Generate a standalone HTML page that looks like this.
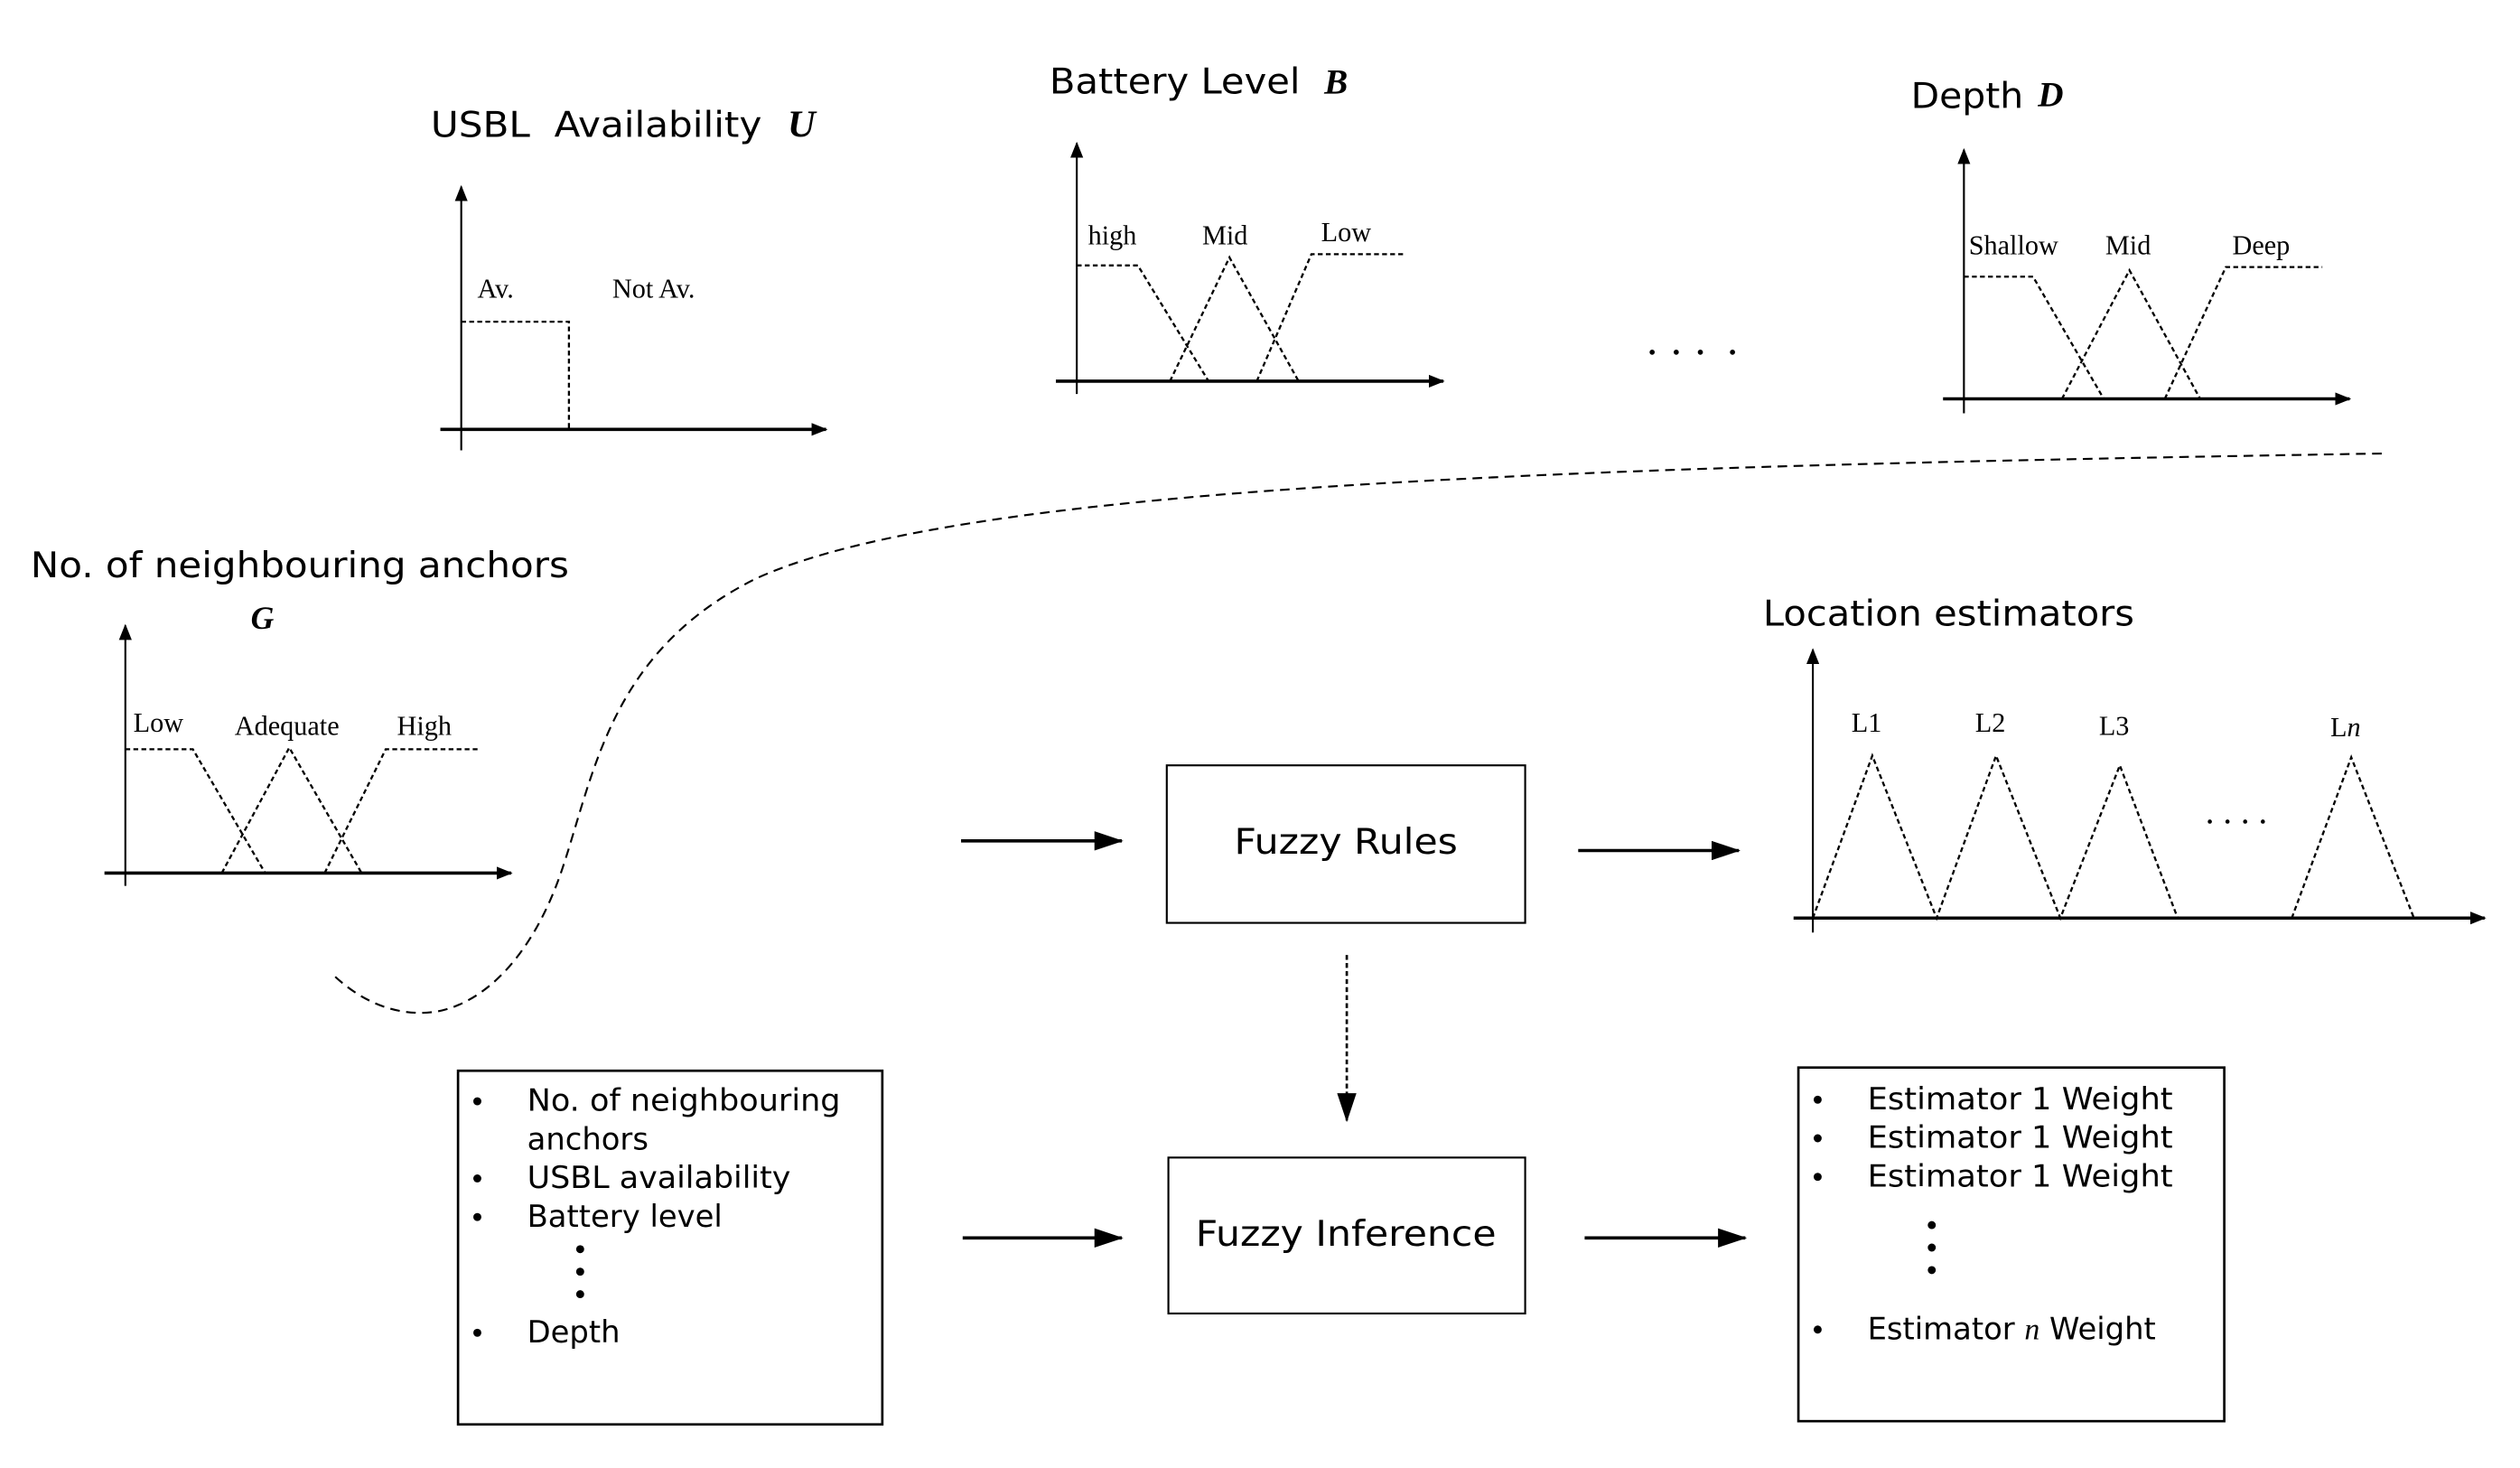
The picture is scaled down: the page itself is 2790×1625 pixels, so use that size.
<!DOCTYPE html>
<html><head><style>html,body{margin:0;padding:0;background:#fff}svg{display:block}</style></head>
<body>
<svg width="2790" height="1625" viewBox="0 0 1568 913" xmlns="http://www.w3.org/2000/svg">
<defs>
<marker id="ah" markerWidth="10" markerHeight="8" refX="9" refY="4" orient="auto" markerUnits="userSpaceOnUse"><path d="M0,0 L10,4 L0,8 Z" fill="#000"/></marker>
<marker id="ab" markerWidth="18" markerHeight="12" refX="17" refY="6" orient="auto" markerUnits="userSpaceOnUse"><path d="M0,0 L18,6 L0,12 Z" fill="#000"/></marker>
</defs>
<g font-family="'DejaVu Sans', sans-serif" fill="#000">
<text x="268" y="85" font-size="22" textLength="206" lengthAdjust="spacingAndGlyphs">USBL&#160; Availability</text>
<text x="490" y="85" font-size="24" font-family="'Liberation Serif',serif" font-style="italic" font-weight="bold">U</text>
<text x="653" y="58" font-size="22" textLength="156" lengthAdjust="spacingAndGlyphs">Battery Level</text>
<text x="824" y="58" font-size="22" font-family="'Liberation Serif',serif" font-style="italic" font-weight="bold">B</text>
<text x="1189" y="67" font-size="22" textLength="70" lengthAdjust="spacingAndGlyphs">Depth</text>
<text x="1268" y="66" font-size="22" font-family="'Liberation Serif',serif" font-style="italic" font-weight="bold">D</text>
<text x="19" y="359" font-size="22" textLength="335" lengthAdjust="spacingAndGlyphs">No. of neighbouring anchors</text>
<text x="156" y="391" font-size="20" font-family="'Liberation Serif',serif" font-style="italic" font-weight="bold">G</text>
<text x="1097" y="389" font-size="22" textLength="231" lengthAdjust="spacingAndGlyphs">Location estimators</text>
<text x="768" y="531" font-size="22" textLength="139" lengthAdjust="spacingAndGlyphs">Fuzzy Rules</text>
<text x="744" y="775" font-size="22" textLength="187" lengthAdjust="spacingAndGlyphs">Fuzzy Inference</text>
<g font-size="19">
<text x="328" y="691" textLength="195" lengthAdjust="spacingAndGlyphs">No. of neighbouring</text>
<text x="328" y="715">anchors</text>
<text x="328" y="739" textLength="164" lengthAdjust="spacingAndGlyphs">USBL availability</text>
<text x="328" y="763">Battery level</text>
<text x="328" y="835">Depth</text>
<text x="1162" y="690" textLength="190" lengthAdjust="spacingAndGlyphs">Estimator 1 Weight</text>
<text x="1162" y="714" textLength="190" lengthAdjust="spacingAndGlyphs">Estimator 1 Weight</text>
<text x="1162" y="738" textLength="190" lengthAdjust="spacingAndGlyphs">Estimator 1 Weight</text>
<text x="1162" y="833">Estimator <tspan font-family="'Liberation Serif',serif" font-style="italic">n</tspan> Weight</text>
</g>
<g>
<circle cx="297" cy="685" r="2.5"/><circle cx="297" cy="733" r="2.5"/><circle cx="297" cy="757" r="2.5"/><circle cx="297" cy="829" r="2.5"/>
<circle cx="361" cy="777" r="2.5"/><circle cx="361" cy="791" r="2.5"/><circle cx="361" cy="805" r="2.5"/>
<circle cx="1131" cy="684" r="2.5"/><circle cx="1131" cy="708" r="2.5"/><circle cx="1131" cy="732" r="2.5"/><circle cx="1131" cy="827" r="2.5"/>
<circle cx="1202" cy="762" r="2.5"/><circle cx="1202" cy="776" r="2.5"/><circle cx="1202" cy="790" r="2.5"/>
<circle cx="1028" cy="219" r="1.6"/><circle cx="1043" cy="219" r="1.6"/><circle cx="1058" cy="219" r="1.6"/><circle cx="1078" cy="219" r="1.6"/>
<circle cx="1375" cy="511" r="1.3"/><circle cx="1386" cy="511" r="1.3"/><circle cx="1397" cy="511" r="1.3"/><circle cx="1408" cy="511" r="1.3"/>
</g>
<g font-family="'Liberation Serif',serif" font-size="17">
<text x="297" y="185">Av.</text><text x="381" y="185">Not Av.</text>
<text x="677" y="152">high</text><text x="748" y="152">Mid</text><text x="822" y="150">Low</text>
<text x="1225" y="158">Shallow</text><text x="1310" y="158">Mid</text><text x="1389" y="158">Deep</text>
<text x="83" y="455">Low</text><text x="146" y="457">Adequate</text><text x="247" y="457">High</text>
<text x="1152" y="455">L1</text><text x="1229" y="455">L2</text><text x="1306" y="457">L3</text><text x="1450" y="458">L<tspan font-style="italic">n</tspan></text>
</g>
</g>
<g stroke="#000" fill="none" stroke-width="1.2">
<line x1="287" y1="280" x2="287" y2="116" marker-end="url(#ah)"/>
<line x1="274" y1="267" x2="514" y2="267" stroke-width="2" marker-end="url(#ah)"/>
<line x1="670" y1="245" x2="670" y2="89" marker-end="url(#ah)"/>
<line x1="657" y1="237" x2="898" y2="237" stroke-width="2" marker-end="url(#ah)"/>
<line x1="1222" y1="257" x2="1222" y2="93" marker-end="url(#ah)"/>
<line x1="1209" y1="248" x2="1462" y2="248" stroke-width="2" marker-end="url(#ah)"/>
<line x1="78" y1="551" x2="78" y2="389" marker-end="url(#ah)"/>
<line x1="65" y1="543" x2="318" y2="543" stroke-width="2" marker-end="url(#ah)"/>
<line x1="1128" y1="580" x2="1128" y2="404" marker-end="url(#ah)"/>
<line x1="1116" y1="571" x2="1546" y2="571" stroke-width="2" marker-end="url(#ah)"/>
<rect x="726" y="476" width="223" height="98"/>
<rect x="727" y="720" width="222" height="97"/>
<rect x="285" y="666" width="264" height="220" stroke-width="1.5"/>
<rect x="1119" y="664" width="265" height="220" stroke-width="1.5"/>
<line x1="598" y1="523" x2="698" y2="523" stroke-width="2" marker-end="url(#ab)"/>
<line x1="982" y1="529" x2="1082" y2="529" stroke-width="2" marker-end="url(#ab)"/>
<line x1="599" y1="770" x2="698" y2="770" stroke-width="2" marker-end="url(#ab)"/>
<line x1="986" y1="770" x2="1086" y2="770" stroke-width="2" marker-end="url(#ab)"/>
<line x1="838" y1="594" x2="838" y2="697" stroke-width="1.5" stroke-dasharray="3,2" marker-end="url(#ab)"/>
<path d="M1482,282 C1000,290 600,300 470,360 C380,405 370,480 350,540 C330,600 295,630 262,630 C240,630 222,620 208,607" stroke-dasharray="6,4"/>
</g>
<g stroke="#000" fill="none" stroke-width="1.3" stroke-dasharray="3,2">
<path d="M287,200 L354,200 L354,267"/>
<path d="M670,165 L708,165 L752,237"/><path d="M728,237 L765,160 L808,237"/><path d="M782,237 L816,158 L875,158"/>
<path d="M1222,172 L1265,172 L1309,248"/><path d="M1283,248 L1325,168 L1369,248"/><path d="M1347,248 L1385,166 L1445,166"/>
<path d="M78,466 L120,466 L165,543"/><path d="M138,543 L180,465 L225,543"/><path d="M202,543 L240,466 L298,466"/>
<path d="M1128,571 L1165,470 L1205,571 L1242,470 L1282,571 L1319,476 L1355,571"/><path d="M1426,571 L1463,471 L1502,571"/>
</g>
</svg>
</body></html>
